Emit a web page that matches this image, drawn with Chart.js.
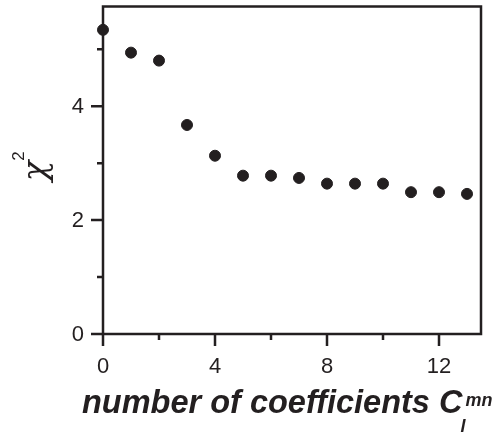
<!DOCTYPE html>
<html>
<head>
<meta charset="utf-8">
<script src="https://cdn.jsdelivr.net/npm/chart.js@4/dist/chart.umd.min.js"></script>
<style>
html, body { margin: 0; padding: 0; background: #fff; }
#wrap { width: 502px; height: 437px; }
</style>
</head>
<body>
<div id="wrap"><canvas id="grafico" width="502" height="437"></canvas></div>
<script>
// dados
const numCoef = [0, 1, 2, 3, 4, 5, 6, 7, 8, 9, 10, 11, 12, 13];
const chi2 = [5.34, 4.94, 4.80, 3.67, 3.13, 2.78, 2.78, 2.74, 2.64, 2.64, 2.64, 2.49, 2.49, 2.46];
const ticksX = [0, 4, 8, 12];
const minorX = [2, 6, 10];
const ticksY = [0, 2, 4];
const minorY = [1, 3, 5];

const cor = '#231f20';
const fonte = '"Liberation Sans", Arial, Helvetica, sans-serif';

let pontos = [];
for (i = 0; i < numCoef.length; i++) {
    pontos.push({ x: numCoef[i], y: chi2[i] });
}

// moldura, marcas e textos dos eixos
const moldura = {
    id: 'moldura',
    beforeDatasetsDraw(chart) {
        const c = chart.ctx;
        const a = chart.chartArea;
        const sx = chart.scales.x, sy = chart.scales.y;
        c.save();
        c.strokeStyle = cor;
        c.lineWidth = 2.5;
        c.strokeRect(a.left, a.top, a.right - a.left, a.bottom - a.top);
        c.beginPath();
        ticksX.forEach(v => { let p = sx.getPixelForValue(v); c.moveTo(p, a.bottom); c.lineTo(p, a.bottom + 12); });
        minorX.forEach(v => { let p = sx.getPixelForValue(v); c.moveTo(p, a.bottom); c.lineTo(p, a.bottom + 6); });
        ticksY.forEach(v => { let p = sy.getPixelForValue(v); c.moveTo(a.left, p); c.lineTo(a.left - 12, p); });
        minorY.forEach(v => { let p = sy.getPixelForValue(v); c.moveTo(a.left, p); c.lineTo(a.left - 6, p); });
        c.stroke();

        c.fillStyle = cor;
        c.font = '22px ' + fonte;
        c.textAlign = 'center';
        c.textBaseline = 'alphabetic';
        ticksX.forEach(v => c.fillText(String(v), sx.getPixelForValue(v), 373));
        c.textAlign = 'right';
        c.textBaseline = 'middle';
        ticksY.forEach(v => c.fillText(String(v), 84, sy.getPixelForValue(v) + 1));
        c.restore();
    },
    afterDraw(chart) {
        const c = chart.ctx;
        c.save();
        c.fillStyle = cor;
        // titulo do eixo x
        const txt = 'number of coefficients C';
        c.font = 'italic bold 100px ' + fonte;
        let tam = 100 * 381 / c.measureText(txt).width;
        c.font = 'italic bold ' + tam.toFixed(1) + 'px ' + fonte;
        c.textBaseline = 'alphabetic';
        c.textAlign = 'left';
        c.fillText(txt, 82, 413);
        let fim = 82 + c.measureText(txt).width;
        c.font = 'italic bold 18px ' + fonte;
        c.fillText('mn', fim + 3, 406);
        c.fillText('l', fim - 2, 432);
        // titulo do eixo y
        c.translate(46, 171);
        c.rotate(-Math.PI / 2);
        c.font = 'italic 34px "DejaVu Serif", serif';
        c.textAlign = 'center';
        c.fillText('\u03C7', 0, 0);
        c.font = '17px ' + fonte;
        c.fillText('2', 15, -22);
        c.restore();
    }
};

const config = {
    type: 'scatter',
    data: {
        datasets: [{
            data: pontos,
            backgroundColor: cor,
            borderColor: cor,
            pointRadius: 5.5,
            pointHoverRadius: 5.5,
            clip: false
        }]
    },
    options: {
        responsive: false,
        animation: false,
        events: [],
        layout: { padding: { top: 6, right: 21, left: 103, bottom: 103 } },
        plugins: { legend: { display: false }, tooltip: { enabled: false } },
        scales: {
            x: { type: 'linear', min: 0, max: 13.5, display: false },
            y: { type: 'linear', min: 0, max: 5.75, display: false }
        }
    },
    plugins: [moldura]
};

var ctx = document.getElementById('grafico').getContext('2d');
let meuGrafico = new Chart(ctx, config);
</script>
</body>
</html>
